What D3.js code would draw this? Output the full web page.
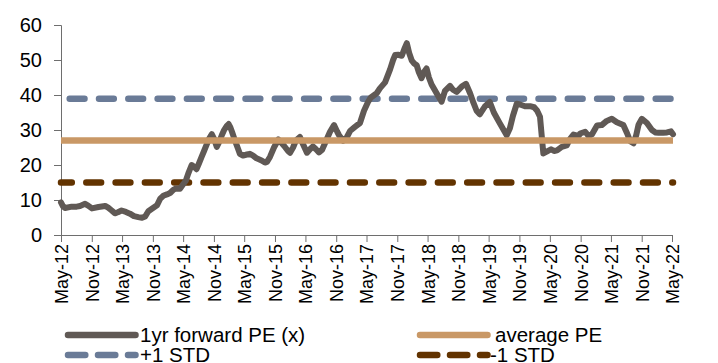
<!DOCTYPE html>
<html>
<head>
<meta charset="utf-8">
<script src="https://cdn.jsdelivr.net/npm/d3@7"></script>
<style>
  html, body { margin: 0; padding: 0; background: #fff; }
  svg { display: block; font-family: "Liberation Sans", Arial, sans-serif; }
</style>
</head>
<body>
<svg id="chart" width="718" height="363"></svg>
<script>
// 1yr forward PE, sampled at irregular dates
const peDates = [
  "2012-05-01","2012-05-13","2012-05-25","2012-07-04","2012-08-03","2012-08-23","2012-09-22","2012-10-10",
  "2012-11-02","2012-12-11","2013-01-20","2013-02-07","2013-02-28","2013-03-19","2013-04-06","2013-04-28",
  "2013-05-24","2013-06-17","2013-07-11","2013-08-06","2013-08-28","2013-09-16","2013-10-05","2013-11-04",
  "2013-11-26","2013-12-14","2014-01-02","2014-01-24","2014-02-12","2014-03-03","2014-03-19","2014-04-12",
  "2014-05-01","2014-05-17","2014-06-01","2014-06-21","2014-07-04","2014-07-20","2014-08-04","2014-08-20",
  "2014-09-03","2014-09-19","2014-10-03","2014-10-19","2014-11-02","2014-11-18","2014-12-02","2014-12-18",
  "2015-01-01","2015-01-17","2015-01-28","2015-02-06","2015-02-17","2015-03-06","2015-03-24","2015-04-05",
  "2015-04-24","2015-05-17","2015-06-04","2015-06-23","2015-07-14","2015-08-13","2015-09-02","2015-09-14",
  "2015-10-02","2015-10-26","2015-11-21","2015-12-07","2015-12-25","2016-01-18","2016-01-30","2016-02-17",
  "2016-03-05","2016-03-29","2016-04-16","2016-05-10","2016-05-28","2016-06-15","2016-07-03","2016-07-21",
  "2016-08-08","2016-09-02","2016-09-25","2016-10-19","2016-11-07","2016-11-18","2016-12-12","2017-01-04",
  "2017-01-24","2017-02-21","2017-03-23","2017-04-16","2017-05-10","2017-05-27","2017-07-01","2017-07-20",
  "2017-08-20","2017-09-19","2017-10-07","2017-10-19","2017-11-06","2017-11-28","2017-12-12","2017-12-28",
  "2018-01-11","2018-01-27","2018-02-10","2018-02-25","2018-03-10","2018-03-26","2018-04-09","2018-04-25",
  "2018-05-09","2018-05-25","2018-06-24","2018-07-24","2018-08-13","2018-09-12","2018-09-30","2018-10-22",
  "2018-11-21","2018-12-17","2019-01-10","2019-01-30","2019-02-18","2019-03-09","2019-04-08","2019-05-08",
  "2019-06-01","2019-07-07","2019-08-17","2019-09-05","2019-09-23","2019-10-16","2019-11-05","2019-12-04",
  "2020-01-04","2020-01-28","2020-02-15","2020-03-03","2020-03-13","2020-03-23","2020-04-12","2020-05-08",
  "2020-05-26","2020-06-13","2020-07-11","2020-08-10","2020-08-30","2020-09-19","2020-10-19","2020-10-29",
  "2020-11-28","2020-12-18","2021-01-08","2021-02-07","2021-03-07","2021-04-06","2021-05-06","2021-06-05",
  "2021-07-14","2021-08-06","2021-08-24","2021-09-13","2021-09-29","2021-10-13","2021-11-02","2021-12-02",
  "2022-01-01","2022-01-21","2022-02-10","2022-03-08","2022-04-01","2022-04-25","2022-05-07"
];
const peValues = [
  9.3, 8.2, 7.7, 8.1, 8.1, 8.3, 8.9, 8.4,
  7.6, 8.0, 8.3, 7.8, 7.0, 6.2, 6.5, 7.0,
  6.6, 6.1, 5.4, 5.1, 4.9, 5.3, 6.8, 7.8,
  8.5, 10.3, 11.2, 11.6, 12.0, 12.9, 13.3, 13.2,
  14.5, 15.5, 17.6, 20.0, 19.6, 18.8, 20.5, 22.4,
  24.0, 25.9, 27.5, 28.8, 27.5, 25.2, 26.5, 28.5,
  30.0, 31.2, 31.7, 30.9, 29.5, 27.1, 24.8, 23.2,
  22.7, 23.0, 23.2, 22.7, 21.9, 21.3, 20.7, 20.9,
  22.3, 25.0, 27.3, 26.5, 25.5, 24.0, 23.5, 25.0,
  27.0, 28.0, 26.0, 23.5, 24.5, 25.3, 24.5, 23.6,
  24.3, 27.0, 29.5, 31.4, 29.5, 28.5, 26.9, 28.0,
  29.8, 30.9, 32.0, 35.5, 38.0, 39.3, 40.5, 41.9,
  43.6, 47.3, 50.0, 51.4, 51.5, 51.2, 53.0, 54.8,
  52.0, 49.8, 49.0, 48.5, 46.5, 44.8, 46.5, 47.6,
  45.0, 43.0, 40.5, 38.1, 41.2, 42.6, 41.5, 40.9,
  42.4, 43.2, 40.5, 37.8, 35.5, 34.5, 36.7, 38.0,
  35.0, 31.9, 28.5, 30.5, 34.0, 37.5, 37.3, 36.8,
  36.8, 36.5, 35.5, 33.8, 28.5, 23.3, 23.8, 24.5,
  24.0, 24.2, 25.2, 25.6, 27.5, 28.7, 28.3, 29.0,
  29.5, 28.3, 28.8, 31.3, 31.4, 32.6, 33.2, 32.2,
  31.4, 29.0, 26.8, 26.2, 28.5, 31.5, 33.2, 32.0,
  30.0, 29.3, 29.2, 29.2, 29.3, 29.6, 28.8
];

// Reference bands
const averagePE = 27.0;
const plusOneStd = 38.9;
const minusOneStd = 15.0;

// Axis ticks
const xTickLabels = ["May-12","Nov-12","May-13","Nov-13","May-14","Nov-14","May-15","Nov-15","May-16","Nov-16",
  "May-17","Nov-17","May-18","Nov-18","May-19","Nov-19","May-20","Nov-20","May-21","Nov-21","May-22"];
const yTicks = [0, 10, 20, 30, 40, 50, 60];

const seriesNames = ["1yr forward PE (x)", "average PE", "+1 STD", "-1 STD"];
const colors = { pe: "#605955", avg: "#c99866", plus: "#6a7b97", minus: "#623300" };

const parseDay = d3.timeParse("%Y-%m-%d");
const parseTick = d3.timeParse("%b-%y");
const data = peDates.map((d, i) => ({ date: parseDay(d), value: peValues[i] }));
const tickDates = xTickLabels.map(parseTick);

const svg = d3.select("#chart");
const x = d3.scaleTime().domain([tickDates[0], tickDates[tickDates.length - 1]]).range([61, 672]);
const y = d3.scaleLinear().domain([0, 60]).range([235, 25]);

const font = "Liberation Sans, Arial, sans-serif";
const axisColor = "#6e6e6e";

// Y axis
const yAxis = svg.append("g").attr("transform", "translate(61,0)")
  .call(d3.axisLeft(y).tickValues(yTicks).tickSize(7).tickPadding(12));
yAxis.select(".domain").attr("stroke", axisColor);
yAxis.selectAll(".tick line").attr("stroke", axisColor);
yAxis.selectAll("text").attr("font-size", 20).attr("font-family", font).attr("fill", "#000");

// X axis with vertical labels
const xAxis = svg.append("g").attr("transform", "translate(0,235)")
  .call(d3.axisBottom(x).tickValues(tickDates).tickFormat((d, i) => xTickLabels[i]).tickSize(7).tickSizeOuter(0));
xAxis.select(".domain").attr("stroke", axisColor);
xAxis.selectAll(".tick line").attr("stroke", axisColor);
xAxis.selectAll("text")
  .attr("font-size", 18).attr("font-family", font).attr("fill", "#000")
  .attr("transform", "rotate(-90)")
  .attr("text-anchor", "end")
  .attr("x", -9).attr("y", 0).attr("dy", "0.36em");

const xStart = x(data[0].date), xEnd = x(data[data.length - 1].date);

// Horizontal reference lines
function hline(v, color, dash, offset) {
  svg.append("line")
    .attr("x1", xStart).attr("x2", xEnd)
    .attr("y1", y(v)).attr("y2", y(v))
    .attr("stroke", color).attr("stroke-width", 6.5)
    .attr("stroke-linecap", dash ? "round" : "butt")
    .attr("stroke-dasharray", dash || null)
    .attr("stroke-dashoffset", offset || 0);
}
hline(plusOneStd, colors.plus, "14.8,14.5", 20.6);
hline(minusOneStd, colors.minus, "14.8,14.5", 4);

// PE line
const line = d3.line().x(d => x(d.date)).y(d => y(d.value)).curve(d3.curveLinear);
svg.append("path").datum(data)
  .attr("d", line)
  .attr("fill", "none")
  .attr("stroke", colors.pe)
  .attr("stroke-width", 6)
  .attr("stroke-linejoin", "round")
  .attr("stroke-linecap", "round");

hline(averagePE, colors.avg, null, 0);

// Legend
const legend = svg.append("g");
const items = [
  { name: seriesNames[0], color: colors.pe, dash: null, x: 68, tx: 140, y: 335 },
  { name: seriesNames[1], color: colors.avg, dash: null, x: 420, tx: 495, y: 335 },
  { name: seriesNames[2], color: colors.plus, dash: "17.3,12.7", x: 68, tx: 140, y: 355 },
  { name: seriesNames[3], color: colors.minus, dash: "17.3,12.7", x: 420, tx: 490, y: 355 }
];
items.forEach(it => {
  legend.append("line")
    .attr("x1", it.x).attr("x2", it.x + 67.5)
    .attr("y1", it.y).attr("y2", it.y)
    .attr("stroke", it.color).attr("stroke-width", 6.5)
    .attr("stroke-linecap", "round")
    .attr("stroke-dasharray", it.dash);
  legend.append("text")
    .attr("x", it.tx).attr("y", it.y + 7)
    .attr("font-size", 20.5).attr("font-family", font)
    .attr("fill", "#000")
    .text(it.name);
});
</script>
</body>
</html>
